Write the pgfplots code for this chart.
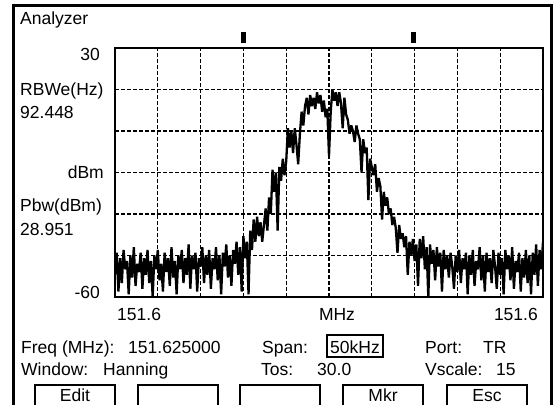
\documentclass[border=0pt]{standalone}
\usepackage{fontspec}
\setmainfont{Liberation Sans}
\usepackage{pgfplots}
\pgfplotsset{compat=1.18}
\usepackage{pgfplotstable}

% trace: offset from 151.600 MHz in kHz, level in dBm
\pgfplotstableread{
khz dbm
0.0 -52
0.2 -44
0.4 -58
0.6 -46
0.8 -55
1.0 -43
1.2 -50
1.4 -47
1.6 -59
1.8 -45
2.0 -53
2.2 -42
2.4 -56
2.6 -48
2.8 -51
3.0 -44
3.2 -57
3.4 -46
3.6 -52
3.8 -43
4.0 -55
4.2 -47
4.4 -60
4.6 -45
4.8 -50
5.0 -43
5.2 -54
5.4 -48
5.6 -58
5.8 -44
6.0 -51
6.2 -46
6.4 -56
6.6 -42
6.8 -53
7.0 -47
7.2 -59
7.4 -45
7.6 -50
7.8 -43
8.0 -55
8.2 -46
8.4 -52
8.6 -41
8.8 -57
9.0 -45
9.2 -50
9.4 -44
9.6 -58
9.8 -46
10.0 -49
10.2 -42
10.4 -55
10.6 -45
10.8 -52
11.0 -43
11.2 -57
11.4 -46
11.6 -50
11.8 -42
12.0 -54
12.2 -45
12.4 -59
12.6 -44
12.8 -49
13.0 -41
13.2 -53
13.4 -45
13.6 -56
13.8 -43
14.0 -48
14.2 -40
14.4 -52
14.6 -42
14.8 -58
15.0 -38
15.2 -46
15.4 -40
15.6 -59
15.8 -36
16.0 -43
16.2 -32
16.4 -40
16.6 -31
16.8 -38
17.0 -33
17.2 -40
17.4 -34
17.6 -28
17.8 -36
18.0 -24
18.2 -30
18.4 -14
18.6 -22
18.8 -15
19.0 -36
19.2 -13
19.4 -18
19.6 -10
19.8 -16
20.0 -11
20.2 1
20.4 -6
20.6 0
20.8 -8
21.0 1
21.2 -5
21.4 -12
21.6 -1
21.8 7
22.0 2
22.2 9
22.4 12
22.6 6
22.8 13
23.0 9
23.2 12
23.4 8
23.6 14
23.8 10
24.0 13
24.2 7
24.4 11
24.6 5
24.8 8
25.0 -9
25.2 7
25.4 15
25.6 11
25.8 14
26.0 9
26.2 14
26.4 10
26.6 1
26.8 12
27.0 6
27.2 4
27.4 -1
27.6 2
27.8 0
28.0 -4
28.2 2
28.4 -1
28.6 -3
28.8 -15
29.0 -3
29.2 -8
29.4 -6
29.6 -25
29.8 -10
30.0 -13
30.2 -16
30.4 -12
30.6 -22
30.8 -17
31.0 -20
31.2 -32
31.4 -22
31.6 -27
31.8 -24
32.0 -30
32.2 -28
32.4 -34
32.6 -31
32.8 -35
33.0 -44
33.2 -34
33.4 -39
33.6 -37
33.8 -42
34.0 -38
34.2 -52
34.4 -40
34.6 -45
34.8 -39
35.0 -47
35.2 -41
35.4 -56
35.6 -39
35.8 -46
36.0 -38
36.2 -50
36.4 -42
36.6 -60
36.8 -41
37.0 -48
37.2 -43
37.4 -54
37.6 -42
37.8 -49
38.0 -44
38.2 -58
38.4 -43
38.6 -50
38.8 -45
39.0 -53
39.2 -44
39.4 -49
39.6 -57
39.8 -45
40.0 -51
40.2 -43
40.4 -55
40.6 -46
40.8 -50
41.0 -44
41.2 -59
41.4 -45
41.6 -52
41.8 -43
42.0 -56
42.2 -47
42.4 -50
42.6 -42
42.8 -54
43.0 -45
43.2 -58
43.4 -44
43.6 -51
43.8 -46
44.0 -55
44.2 -43
44.4 -49
44.6 -57
44.8 -44
45.0 -52
45.2 -46
45.4 -59
45.6 -43
45.8 -50
46.0 -45
46.2 -54
46.4 -42
46.6 -57
46.8 -47
47.0 -51
47.2 -44
47.4 -58
47.6 -46
47.8 -53
48.0 -43
48.2 -55
48.4 -45
48.6 -59
48.8 -44
49.0 -52
49.2 -41
49.4 -56
49.6 -43
49.8 -50
50.0 -40
}\trace

\begin{document}
\begin{tikzpicture}[every node/.style={font=\fontsize{17.5bp}{21bp}\selectfont, inner sep=0pt}]
\useasboundingbox (0,0) rectangle (553bp,405bp);
\begin{axis}[
    at={(115bp,108bp)}, anchor=south west,
    scale only axis,
    width=428bp, height=249bp,
    xmin=0, xmax=50, ymin=-60, ymax=30,
    xtick={0,5,...,50}, ytick={-60,-45,...,30},
    xticklabels={}, yticklabels={},
    major tick length=0pt,
    grid=major,
    major grid style={black, line width=1.1bp, dash pattern=on 4bp off 2bp},
    axis line style={black, line width=1.4bp},
    clip=true,
]
\addplot[black, line width=2.3bp, line join=bevel, sharp plot, mark=none] table[x=khz, y=dbm] {\trace};
\end{axis}

\begin{scope}[x=1bp, y=1bp]
  % outer frame
  \draw[line width=3bp] (13.5,-10) -- (13.5,399) -- (551.5,399) -- (551.5,-10);
  % span markers
  \fill (241,362) rectangle (245.5,373);
  \fill (411,362) rectangle (415.5,373);
  % left readouts
  \node[anchor=base west] at (20,381) {Analyzer};
  \node[anchor=base east] at (100,345) {30};
  \node[anchor=base west] at (20,310) {RBWe(Hz)};
  \node[anchor=base west] at (20,287) {92.448};
  \node[anchor=base east] at (104,227) {dBm};
  \node[anchor=base west] at (20,194) {Pbw(dBm)};
  \node[anchor=base west] at (20,170) {28.951};
  \node[anchor=base east] at (100,107) {-60};
  % x labels
  \node[anchor=base west] at (117,85) {151.6};
  \node[anchor=base] at (337,85) {MHz};
  \node[anchor=base east] at (538,85) {151.6};
  % status lines
  \node[anchor=base west] at (21,52) {Freq (MHz):};
  \node[anchor=base west] at (128,52) {151.625000};
  \node[anchor=base west] at (262,52) {Span:};
  \node[anchor=base west] at (330,52) {50kHz};
  \draw[line width=1.2bp] (327,48) rectangle (383,70);
  \node[anchor=base west] at (425,52) {Port:};
  \node[anchor=base west] at (483,52) {TR};
  \node[anchor=base west] at (21,30) {Window:};
  \node[anchor=base west] at (103,30) {Hanning};
  \node[anchor=base west] at (261,30) {Tos:};
  \node[anchor=base west] at (317,30) {30.0};
  \node[anchor=base west] at (425,30) {Vscale:};
  \node[anchor=base west] at (496,30) {15};
  % soft keys
  \foreach \l/\r/\t in {35/115/Edit, 138/218/{}, 240/320/{}, 343/423/Mkr, 447/527/Esc} {
    \draw[line width=1.3bp] (\l,-10) -- (\l,20) -- (\r,20) -- (\r,-10);
    \node[anchor=base] at ({(\l+\r)/2},4) {\t};
  }
\end{scope}
\end{tikzpicture}
\end{document}
